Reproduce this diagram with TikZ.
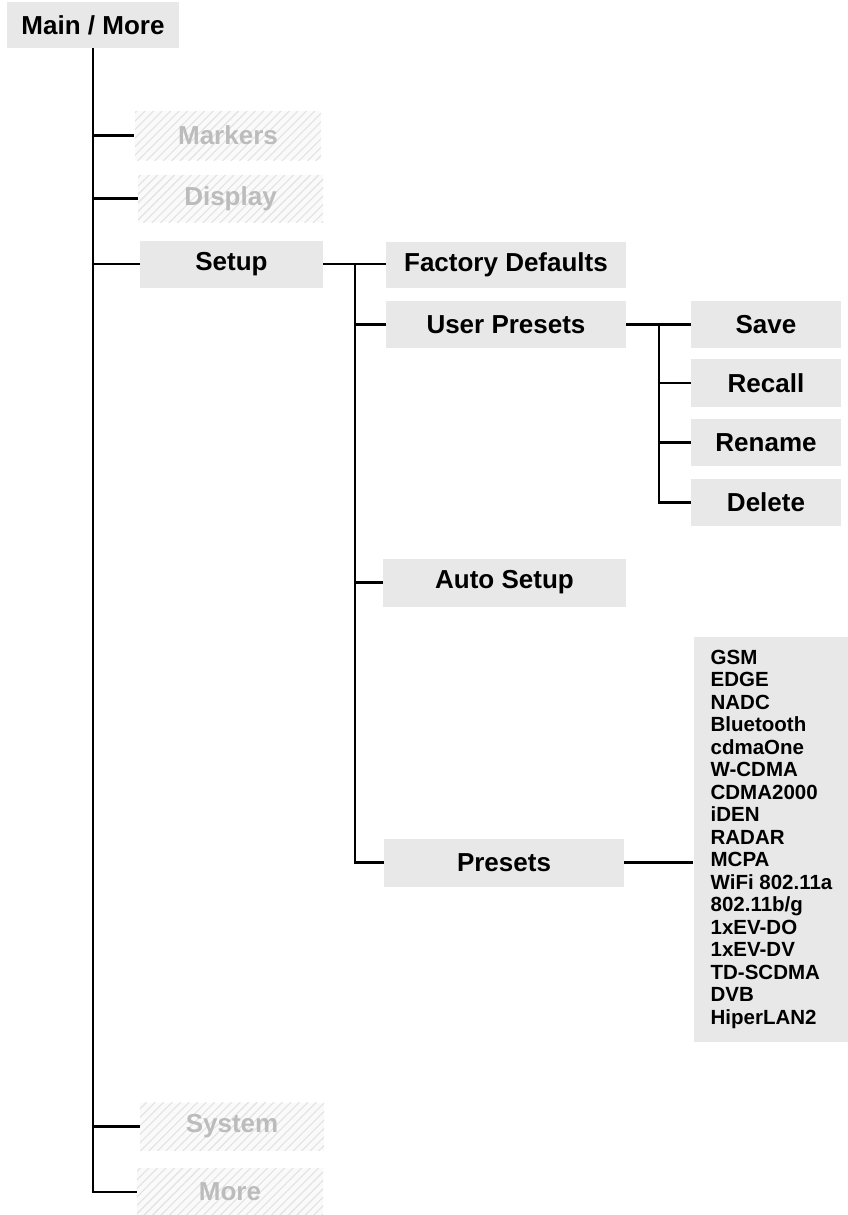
\documentclass[tikz,border=0pt]{standalone}
\usepackage{fontspec}
\setmainfont{Liberation Sans}
\usetikzlibrary{patterns.meta}
\definecolor{boxgray}{RGB}{232,232,232}
\definecolor{hatchgray}{RGB}{226,226,226}
\definecolor{ghosttext}{RGB}{188,188,188}
\begin{document}
\begin{tikzpicture}[x=1pt,y=-1pt,
  lbl/.style={inner sep=0pt, font=\fontsize{26}{30}\selectfont\bfseries},
  box/.style={lbl, fill=boxgray},
  ghost/.style={lbl, text=ghosttext, preaction={fill=black!2},
    pattern={Lines[angle=45,distance=6pt,line width=1.1pt]}, pattern color=hatchgray},
  conn/.style={line width=2.2pt}]
\useasboundingbox (0,0) rectangle (848,1215);
% level 0
\node[box, minimum width=172pt, minimum height=46pt] (main) at (93,25) {Main / More};
% level 1
\node[ghost, minimum width=186pt, minimum height=49pt] (markers) at (228,135.5) {Markers};
\node[ghost, minimum width=185pt, minimum height=47pt] (display) at (230.5,198.5) {Display};
\node[box, minimum width=183pt, minimum height=47pt] (setup) at (231.5,264) {Setup};
\node[ghost, minimum width=184pt, minimum height=48pt] (system) at (232,1126.5) {System};
\node[ghost, minimum width=186pt, minimum height=48pt] (more) at (230,1192) {More};
% level 2
\node[box, minimum width=240pt, minimum height=46pt] (factory) at (506,265) {Factory Defaults};
\node[box, minimum width=240pt, minimum height=47pt] (user) at (506,324.5) {User Presets};
\node[box, minimum width=243pt, minimum height=48pt] (auto) at (504.5,582.5) {Auto Setup};
\node[box, minimum width=240pt, minimum height=48pt] (presets) at (504,862.5) {Presets};
% level 3
\node[box, minimum width=150pt, minimum height=47pt] (save) at (766,324.5) {Save};
\node[box, minimum width=150pt, minimum height=48pt] (recall) at (766,383) {Recall};
\node[box, minimum width=150pt, minimum height=47pt] (rename) at (766,442.5) {Rename};
\node[box, minimum width=150pt, minimum height=47pt] (delete) at (766,502.5) {Delete};
\node[fill=boxgray, inner sep=0pt, minimum width=156pt, minimum height=405pt,
  align=left, font=\fontsize{20.5}{22.5}\selectfont\bfseries] (list) at (771.5,839)
  {GSM\\EDGE\\NADC\\Bluetooth\\cdmaOne\\W-CDMA\\CDMA2000\\iDEN\\RADAR\\MCPA\\WiFi 802.11a\\802.11b/g\\1xEV-DO\\1xEV-DV\\TD-SCDMA\\DVB\\HiperLAN2};
% connectors level 0 -> 1
\draw[conn] (main.south) |- (more.west);
\draw[conn] (main.south |- markers.west) -- (markers.west);
\draw[conn] (main.south |- display.west) -- (display.west);
\draw[conn] (main.south |- setup.west) -- (setup.west);
\draw[conn] (main.south |- system.west) -- (system.west);
% setup branch
\coordinate (sb) at (355,264);
\draw[conn] (setup.east) -- (setup.east -| factory.west);
\draw[conn] (sb) |- (presets.west);
\draw[conn] (sb |- user.west) -- (user.west);
\draw[conn] (sb |- auto.west) -- (auto.west);
% user presets branch
\coordinate (ub) at (659,324.5);
\draw[conn] (user.east) -- (user.east -| save.west);
\draw[conn] (ub) |- (delete.west);
\draw[conn] (ub |- recall.west) -- (recall.west);
\draw[conn] (ub |- rename.west) -- (rename.west);
% presets -> list
\draw[conn] (presets.east) -- (presets.east -| list.west);
\end{tikzpicture}
\end{document}
